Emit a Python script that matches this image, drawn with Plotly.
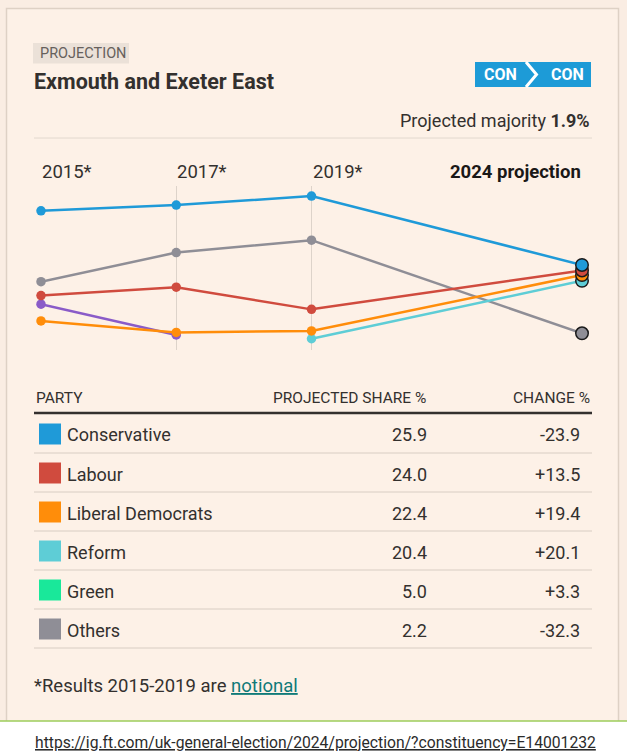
import plotly.graph_objects as go

# chart data (vote share %)
years = ["2015*", "2017*", "2019*", "2024 projection"]
conservative = [44.7, 46.7, 49.8, 25.9]
labour = [15.3, 18.2, 10.5, 24.0]
lib_dems = [6.5, 2.5, 3.0, 22.4]
reform = [None, None, 0.3, 20.4]
others = [20.1, 30.2, 34.5, 2.2]
ukip = [12.3, 1.6, None, None]

# table data
parties = ["Conservative", "Labour", "Liberal Democrats", "Reform", "Green", "Others"]
shares = ["25.9", "24.0", "22.4", "20.4", "5.0", "2.2"]
changes = ["-23.9", "+13.5", "+19.4", "+20.1", "+3.3", "-32.3"]

colors = {
    "Conservative": "#1f9ad8",
    "Labour": "#d04b3e",
    "Liberal Democrats": "#ff8d0a",
    "Reform": "#5ecdd6",
    "Green": "#19e89a",
    "Others": "#8f8e96",
    "UKIP": "#8a5bc8",
}

W, H = 627, 754
FONT = "Roboto"
INK = "#33302e"


def px(x):
    return x / W


def py(y):
    return 1 - y / H


fig = go.Figure()

# a blank slot between 2019 and 2024 gives the wider gap
cat_order = years[:3] + [" "] + years[3:]

series = [
    ("Others", others),
    ("UKIP", ukip),
    ("Reform", reform),
    ("Liberal Democrats", lib_dems),
    ("Labour", labour),
    ("Conservative", conservative),
]

for name, vals in series:
    fig.add_trace(go.Scatter(
        x=years, y=vals, mode="lines", connectgaps=False,
        line=dict(color=colors[name], width=2.5),
        hoverinfo="skip", showlegend=False, cliponaxis=False,
    ))

for name, vals in series:
    fig.add_trace(go.Scatter(
        x=years[:3], y=vals[:3], mode="markers",
        marker=dict(color=colors[name], size=9.5),
        name=name, showlegend=False, cliponaxis=False,
    ))

# 2024 projection markers, outlined, conservative on top
for name, vals in series:
    if vals[3] is None:
        continue
    fig.add_trace(go.Scatter(
        x=years[3:], y=vals[3:], mode="markers",
        marker=dict(color=colors[name], size=12.5,
                    line=dict(color="#1a1a1a", width=1.5)),
        name=name, showlegend=False, cliponaxis=False,
    ))

shapes = []
annotations = []

# card
shapes.append(dict(type="rect", xref="paper", yref="paper",
                   x0=px(6.5), x1=px(618.5), y0=py(760), y1=py(8.5),
                   fillcolor="#fdf1e7", line=dict(color="#ded1c5", width=1.5),
                   layer="below"))

# PROJECTION tag
shapes.append(dict(type="rect", xref="paper", yref="paper",
                   x0=px(33), x1=px(129), y0=py(63.5), y1=py(43),
                   fillcolor="#ebe1d8", line=dict(width=0), layer="below"))
annotations.append(dict(text="PROJECTION", x=px(38), y=py(53.5),
                        xanchor="left", yanchor="middle",
                        font=dict(size=14.5, color="#66605c")))
annotations.append(dict(text="<b>Exmouth and Exeter East</b>", x=px(32), y=py(82),
                        xanchor="left", yanchor="middle",
                        font=dict(size=21.5, color=INK)))

# CON > CON badge
shapes.append(dict(type="rect", xref="paper", yref="paper",
                   x0=px(475), x1=px(591), y0=py(87), y1=py(62),
                   fillcolor="#1d9bd7", line=dict(width=0)))
shapes.append(dict(type="path", xref="paper", yref="paper",
                   path=f"M {px(526)} {py(62)} L {px(536.5)} {py(74.5)} L {px(526)} {py(87)}",
                   line=dict(color="white", width=3)))
annotations.append(dict(text="<b>CON</b>", x=px(501), y=py(75), xanchor="center",
                        yanchor="middle", font=dict(size=16, color="white")))
annotations.append(dict(text="<b>CON</b>", x=px(567), y=py(75), xanchor="center",
                        yanchor="middle", font=dict(size=16, color="white")))

annotations.append(dict(text="Projected majority <b>1.9%</b>", x=px(592), y=py(121),
                        xanchor="right", yanchor="middle",
                        font=dict(size=18, color=INK)))
shapes.append(dict(type="line", xref="paper", yref="paper",
                   x0=px(34), x1=px(592), y0=py(138), y1=py(138),
                   line=dict(color="#e2d8ce", width=1)))

# year labels above the chart
for i, yr in enumerate(years):
    last = i == len(years) - 1
    annotations.append(dict(
        text=f"<b>{yr}</b>" if last else yr, x=yr, xref="x", y=py(172), yref="paper",
        xanchor="right" if last else "left", yanchor="middle",
        xshift=1 if last else -1,
        font=dict(size=18.5, color="#1a1817" if last else INK)))

# table header
header_y = 398
annotations.append(dict(text="PARTY", x=px(34), y=py(header_y), xanchor="left",
                        yanchor="middle", font=dict(size=15.5, color=INK)))
annotations.append(dict(text="PROJECTED SHARE %", x=px(428), y=py(header_y),
                        xanchor="right", yanchor="middle", font=dict(size=15.5, color=INK)))
annotations.append(dict(text="CHANGE %", x=px(592), y=py(header_y),
                        xanchor="right", yanchor="middle", font=dict(size=15.5, color=INK)))
shapes.append(dict(type="line", xref="paper", yref="paper",
                   x0=px(34), x1=px(592), y0=py(413), y1=py(413),
                   line=dict(color=INK, width=2.5)))

row_h = 39
for i, (party, share, change) in enumerate(zip(parties, shares, changes)):
    cy = 435 + i * row_h
    shapes.append(dict(type="rect", xref="paper", yref="paper",
                       x0=px(39), x1=px(61), y0=py(cy + 9.5), y1=py(cy - 11.5),
                       fillcolor=colors[party], line=dict(width=0)))
    annotations.append(dict(text=party, x=px(65), y=py(cy), xanchor="left",
                            yanchor="middle", font=dict(size=18, color=INK)))
    annotations.append(dict(text=share, x=px(429), y=py(cy), xanchor="right",
                            yanchor="middle", font=dict(size=18, color=INK)))
    annotations.append(dict(text=change, x=px(582), y=py(cy), xanchor="right",
                            yanchor="middle", font=dict(size=18, color=INK)))
    shapes.append(dict(type="line", xref="paper", yref="paper",
                       x0=px(34), x1=px(592), y0=py(cy + 18), y1=py(cy + 18),
                       line=dict(color="#d8cdc3", width=1)))

annotations.append(dict(
    text="*Results 2015-2019 are <span style='color:#0f7a78'><u>notional</u></span>",
    x=px(32), y=py(686), xanchor="left", yanchor="middle",
    font=dict(size=18.5, color=INK)))

# page footer strip with the source link
shapes.append(dict(type="rect", xref="paper", yref="paper",
                   x0=0, x1=1, y0=0, y1=py(721),
                   fillcolor="white", line=dict(width=0)))
shapes.append(dict(type="line", xref="paper", yref="paper",
                   x0=0, x1=1, y0=py(721), y1=py(721),
                   line=dict(color="#9ccc5a", width=1.5)))
annotations.append(dict(
    text="<u>https://ig.ft.com/uk-general-election/2024/projection/?constituency=E14001232</u>",
    x=px(315.5), y=py(742), xanchor="center", yanchor="middle",
    font=dict(size=15.7, color="#2b2b2b")))

for a in annotations:
    a.setdefault("xref", "paper")
    a.setdefault("yref", "paper")
    a["showarrow"] = False

fig.update_layout(
    width=W, height=H,
    margin=dict(l=0, r=0, t=0, b=0),
    paper_bgcolor="#faede3",
    plot_bgcolor="rgba(0,0,0,0)",
    font=dict(family=FONT, color=INK),
    shapes=shapes,
    annotations=annotations,
    xaxis=dict(
        domain=[px(41), px(582)],
        type="category", categoryorder="array", categoryarray=cat_order,
        range=[0, len(cat_order) - 1],
        tickvals=years, showticklabels=False, ticks="",
        showgrid=True, gridcolor="#ddd3ca", gridwidth=1,
        zeroline=False, showline=False, fixedrange=True,
    ),
    yaxis=dict(
        domain=[py(350), py(186)],
        range=[-3.6, 53.3],
        showgrid=False, showticklabels=False, zeroline=False,
        showline=False, fixedrange=True,
    ),
)

# the page's default 8px body margin would shift the figure
fig.write_html("out.html", config={"displayModeBar": False},
               post_script="document.body.style.margin='0';")
